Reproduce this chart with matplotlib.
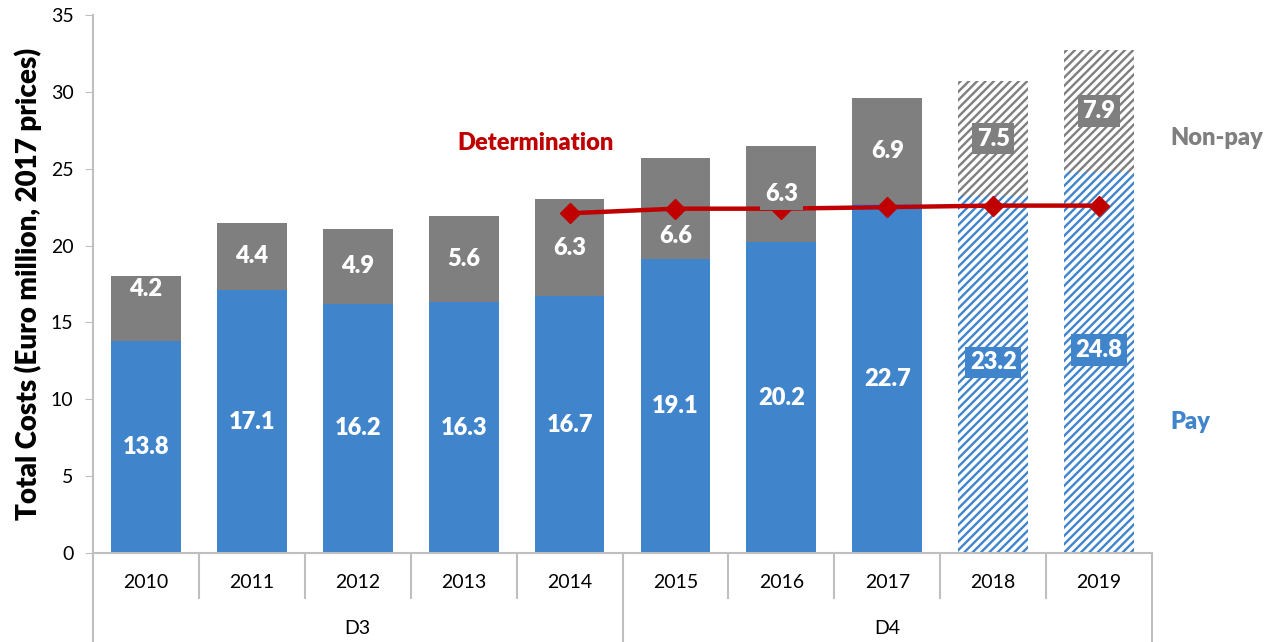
import numpy as np
import matplotlib
matplotlib.use('Agg')
import matplotlib.pyplot as plt
import matplotlib.transforms as mtrans

plt.rcParams['font.family'] = ['Lato', 'DejaVu Sans']
plt.rcParams['hatch.linewidth'] = 1.7

years = ['2010', '2011', '2012', '2013', '2014', '2015', '2016', '2017', '2018', '2019']
periods = ['D3', 'D4']
period_span = [(0, 4), (5, 9)]
pay = [13.8, 17.1, 16.2, 16.3, 16.7, 19.1, 20.2, 22.7, 23.2, 24.8]
nonpay = [4.2, 4.4, 4.9, 5.6, 6.3, 6.6, 6.3, 6.9, 7.5, 7.9]
forecast = [False] * 8 + [True, True]
det_years = ['2014', '2015', '2016', '2017', '2018', '2019']
determination = [22.1, 22.4, 22.4, 22.5, 22.6, 22.6]

blue = '#4084CB'
grey = '#7F7F7F'
red = '#C00000'
spine = '#BFBFBF'
bold = 'heavy'

fig = plt.figure(figsize=(12.74, 6.42), dpi=100)
ax = fig.add_axes([93/1274, 1-553/642, (1152-93)/1274, (553-15)/642])

x = np.arange(len(years))
w = 0.66
pay = np.array(pay)
nonpay = np.array(nonpay)

for i in x:
    if forecast[i]:
        ax.bar(i, pay[i], w, color='white', edgecolor=blue, hatch='////', linewidth=0, zorder=2)
        ax.bar(i, nonpay[i], w, bottom=pay[i], color='white', edgecolor=grey, hatch='////', linewidth=0, zorder=2)
    else:
        ax.bar(i, pay[i], w, color=blue, linewidth=0, zorder=2)
        ax.bar(i, nonpay[i], w, bottom=pay[i], color=grey, linewidth=0, zorder=2)

# determination line
dx = [years.index(y) for y in det_years]
ax.plot(dx, determination, color=red, lw=3.2, marker='D', ms=10, zorder=3)

# value labels
shift = {0: 1.3, 5: -1.8}
for i in x:
    ax.text(i, pay[i]/2 + (0.8 if forecast[i] else 0), '%.1f' % pay[i], ha='center', va='center',
            color='white', fontsize=17, fontweight=bold, zorder=5,
            bbox=dict(boxstyle='square,pad=0.2', fc=blue, ec='none'))
    box = dict(boxstyle='square,pad=0.2', fc=grey, ec='none') if i > 0 else None
    ax.text(i, pay[i] + nonpay[i]/2 + shift.get(i, 0), '%.1f' % nonpay[i], ha='center', va='center',
            color='white', fontsize=17, fontweight=bold, zorder=5, bbox=box)

ax.text(4.42, 26.7, 'Determination', color=red, fontsize=17, fontweight=bold, ha='right', va='center')
ax.text(9.67, 27.0, 'Non-pay', color=grey, fontsize=17, fontweight=bold, ha='left', va='center',
        clip_on=False)
ax.text(9.67, 8.5, 'Pay', color=blue, fontsize=17, fontweight=bold, ha='left', va='center',
        clip_on=False)

ax.set_xlim(-0.5, 9.5)
ax.set_ylim(0, 35)
ax.set_yticks(np.arange(0, 36, 5))
ax.tick_params(axis='y', direction='out', length=6, color=spine, labelsize=14, pad=8)
ax.set_xticks([])
for s in ['top', 'right']:
    ax.spines[s].set_visible(False)
ax.spines['left'].set_color(spine)
ax.spines['bottom'].set_color(spine)
ax.spines['left'].set_linewidth(1.5)
ax.spines['bottom'].set_linewidth(1.5)
ax.set_ylabel('Total Costs (Euro million, 2017 prices)', fontsize=20, fontweight=bold, labelpad=6)

# two-level category axis
tr = mtrans.blended_transform_factory(ax.transData, ax.transAxes)
y_year = -45/538
y_bot = -100/538
for i in range(len(years) + 1):
    b = i - 0.5
    is_group = b in (-0.5, 4.5, 9.5)
    ax.plot([b, b], [0, y_bot if is_group else y_year], color=spine, lw=1.5,
            transform=tr, clip_on=False)
for i, yr in enumerate(years):
    ax.text(i, -30/538, yr, transform=tr, ha='center', va='center', fontsize=14)
for name, (a, b) in zip(periods, period_span):
    ax.text((a + b)/2, -75/538, name, transform=tr, ha='center', va='center', fontsize=14)

fig.savefig('out.png', dpi=100)
